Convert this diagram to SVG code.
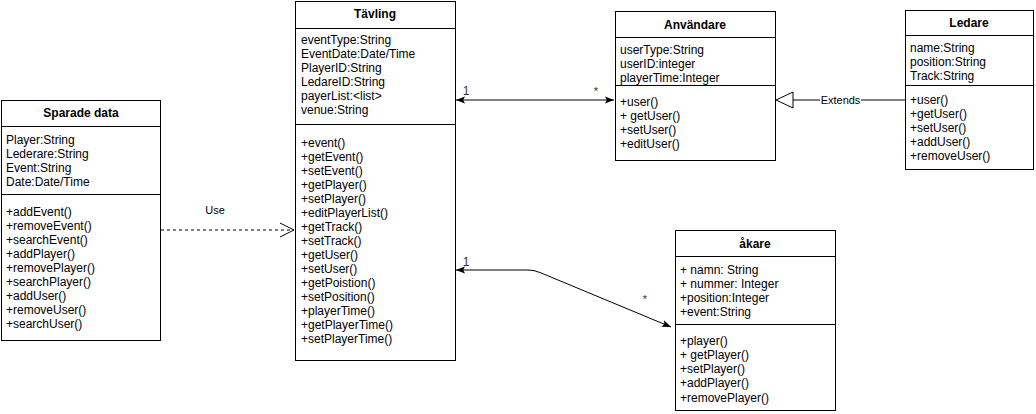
<svg xmlns="http://www.w3.org/2000/svg" width="1036" height="414" viewBox="0 0 1036 414">
<style>
.box{fill:#fff;stroke:#000;stroke-width:1}
.ln{stroke:#000;stroke-width:1;fill:none}
text{font-family:"Liberation Sans",Arial,Helvetica,sans-serif;font-size:12px;fill:#000}
.t{font-weight:bold;text-anchor:middle}
.lbl{fill:#333}
.sm{font-size:11px}
</style>
<defs>
<marker id="blk" viewBox="0 0 10 10" refX="10" refY="5" markerWidth="9" markerHeight="9" markerUnits="userSpaceOnUse" orient="auto-start-reverse">
<path d="M0,1 L10,5 L0,9 L2,5 Z" fill="#000"/>
</marker>
</defs>
<rect width="1036" height="414" fill="#fff"/>
<g id="connectors">
<line class="ln" x1="161" y1="230" x2="294" y2="230" stroke-dasharray="3,3"/>
<polyline class="ln" points="280,223 294,230 280,237"/>
<text class="sm" x="215" y="214" text-anchor="middle">Use</text>
<line class="ln" x1="456" y1="100" x2="614" y2="100" marker-start="url(#blk)" marker-end="url(#blk)"/>
<text x="466" y="95" class="lbl" text-anchor="middle">1</text>
<text x="596" y="95" class="lbl sm" text-anchor="middle">*</text>
<path class="ln" d="M456,270 L528,270 Q534,270 540,272.5 L671,327" marker-start="url(#blk)" marker-end="url(#blk)"/>
<text x="466" y="266" class="lbl" text-anchor="middle">1</text>
<text x="645" y="303" class="lbl sm" text-anchor="middle">*</text>
<line class="ln" x1="905" y1="100" x2="861" y2="100"/>
<line class="ln" x1="820" y1="100" x2="793" y2="100"/>
<path class="ln" d="M793,92 L776,100 L793,108 Z" fill="#fff"/>
<text class="sm" x="840.5" y="104" text-anchor="middle">Extends</text>
</g>
<g id="sparade">
<rect class="box" x="1.5" y="100.5" width="159" height="240"/>
<line class="ln" x1="1.5" y1="126.5" x2="160.5" y2="126.5"/>
<line class="ln" x1="1.5" y1="194.5" x2="160.5" y2="194.5"/>
<text class="t" x="81" y="117">Sparade data</text>
<text x="6" y="144">Player:String</text>
<text x="6" y="158">Lederare:String</text>
<text x="6" y="172">Event:String</text>
<text x="6" y="186">Date:Date/Time</text>
<text x="6" y="216">+addEvent()</text>
<text x="6" y="230">+removeEvent()</text>
<text x="6" y="244">+searchEvent()</text>
<text x="6" y="258">+addPlayer()</text>
<text x="6" y="272">+removePlayer()</text>
<text x="6" y="286">+searchPlayer()</text>
<text x="6" y="300">+addUser()</text>
<text x="6" y="314">+removeUser()</text>
<text x="6" y="328">+searchUser()</text>
</g>
<g id="tavling">
<rect class="box" x="295.5" y="1.5" width="160" height="359"/>
<line class="ln" x1="295.5" y1="28.5" x2="455.5" y2="28.5"/>
<line class="ln" x1="295.5" y1="124.5" x2="455.5" y2="124.5"/>
<text class="t" x="375" y="18">Tävling</text>
<text x="301" y="44">eventType:String</text>
<text x="301" y="58">EventDate:Date/Time</text>
<text x="301" y="72">PlayerID:String</text>
<text x="301" y="86">LedareID:String</text>
<text x="301" y="100">payerList:&lt;list&gt;</text>
<text x="301" y="114">venue:String</text>
<text x="301" y="147">+event()</text>
<text x="301" y="161">+getEvent()</text>
<text x="301" y="175">+setEvent()</text>
<text x="301" y="189">+getPlayer()</text>
<text x="301" y="203">+setPlayer()</text>
<text x="301" y="217">+editPlayerList()</text>
<text x="301" y="231">+getTrack()</text>
<text x="301" y="245">+setTrack()</text>
<text x="301" y="259">+getUser()</text>
<text x="301" y="273">+setUser()</text>
<text x="301" y="287">+getPoistion()</text>
<text x="301" y="301">+setPosition()</text>
<text x="301" y="315">+playerTime()</text>
<text x="301" y="329">+getPlayerTime()</text>
<text x="301" y="343">+setPlayerTime()</text>
</g>
<g id="anvandare">
<rect class="box" x="615.5" y="11.5" width="160" height="149"/>
<line class="ln" x1="615.5" y1="37.5" x2="775.5" y2="37.5"/>
<line class="ln" x1="615.5" y1="85.5" x2="775.5" y2="85.5"/>
<text class="t" x="695" y="29">Användare</text>
<text x="620" y="54">userType:String</text>
<text x="620" y="68">userID:integer</text>
<text x="620" y="82">playerTime:Integer</text>
<text x="620" y="106">+user()</text>
<text x="620" y="120">+ getUser()</text>
<text x="620" y="134">+setUser()</text>
<text x="620" y="148">+editUser()</text>
</g>
<g id="ledare">
<rect class="box" x="905.5" y="10.5" width="128" height="159"/>
<line class="ln" x1="905.5" y1="35.5" x2="1033.5" y2="35.5"/>
<line class="ln" x1="905.5" y1="85.5" x2="1033.5" y2="85.5"/>
<text class="t" x="969" y="27">Ledare</text>
<text x="910" y="52">name:String</text>
<text x="910" y="66">position:String</text>
<text x="910" y="80">Track:String</text>
<text x="910" y="104">+user()</text>
<text x="910" y="118">+getUser()</text>
<text x="910" y="132">+setUser()</text>
<text x="910" y="146">+addUser()</text>
<text x="910" y="160">+removeUser()</text>
</g>
<g id="akare">
<rect class="box" x="675.5" y="230.5" width="160" height="180"/>
<line class="ln" x1="675.5" y1="256.5" x2="835.5" y2="256.5"/>
<line class="ln" x1="675.5" y1="324.5" x2="835.5" y2="324.5"/>
<text class="t" x="755" y="248">åkare</text>
<text x="680" y="274">+ namn: String</text>
<text x="680" y="288">+ nummer: Integer</text>
<text x="680" y="302">+position:Integer</text>
<text x="680" y="316">+event:String</text>
<text x="680" y="345">+player()</text>
<text x="680" y="359">+ getPlayer()</text>
<text x="680" y="373">+setPlayer()</text>
<text x="680" y="387">+addPlayer()</text>
<text x="680" y="402">+removePlayer()</text>
</g>
</svg>
